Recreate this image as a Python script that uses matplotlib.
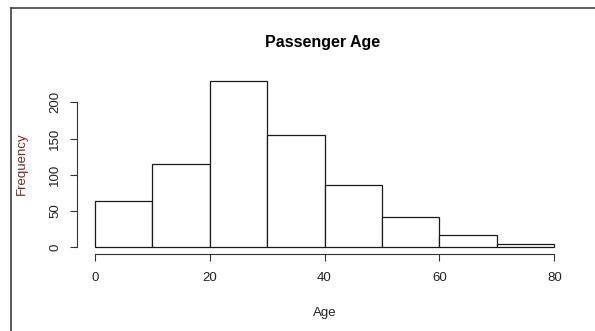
import matplotlib
matplotlib.use('Agg')
import matplotlib.pyplot as plt
from matplotlib.lines import Line2D

plt.rcParams['font.family'] = ['Liberation Sans', 'DejaVu Sans']

# histogram of passenger ages (bin edges and counts)
bin_edges = [0, 10, 20, 30, 40, 50, 60, 70, 80]
counts = [64, 115, 230, 155, 86, 42, 17, 5]
x_ticks = [0, 20, 40, 60, 80]
y_ticks = [0, 50, 100, 150, 200]

fig = plt.figure(figsize=(5.95, 3.31), dpi=100)
ax = fig.add_axes([0.1592, 0.2529, 0.7724, 0.508])

bars = ax.bar(bin_edges[:-1], counts, width=10, align='edge',
              color='white', edgecolor='#1a1a1a', linewidth=0.9)
for b in bars:
    b.set_clip_on(False)

ax.set_xlim(0, 80)
ax.set_ylim(0, 232)

for s in ['top', 'right']:
    ax.spines[s].set_visible(False)
ax.spines['left'].set_position(('outward', 13))
ax.spines['bottom'].set_position(('outward', 5))
ax.spines['left'].set_bounds(0, 200)
ax.spines['bottom'].set_bounds(0, 80)
for s in ['left', 'bottom']:
    ax.spines[s].set_color('#333333')
    ax.spines[s].set_linewidth(0.8)

ax.set_xticks(x_ticks)
ax.set_yticks(y_ticks)
ax.tick_params(axis='both', length=5, width=0.8, color='#333333',
               labelsize=9.5, labelcolor='#222222')
ax.tick_params(axis='x', pad=8)
ax.tick_params(axis='y', pad=6, labelrotation=90)
for lbl in ax.get_yticklabels():
    lbl.set_va('center')

ax.set_xlabel('Age', fontsize=9.5, color='#222222')
ax.xaxis.set_label_coords(0.5, -0.355)
ax.set_ylabel('Frequency', fontsize=9.5, color='#7a2a1a')
ax.yaxis.set_label_coords(-0.158, 0.5)
ax.yaxis.label.set_va('center')

fig.text(323 / 595, 1 - 42 / 331, 'Passenger Age', ha='center', va='center',
         fontsize=11.5, fontweight='bold')

# screenshot frame: top and left border
fig.add_artist(Line2D([0.0178, 1.0], [0.975, 0.975], transform=fig.transFigure,
                      color='#404040', linewidth=1.2))
fig.add_artist(Line2D([0.0178, 0.0178], [0.0, 0.975], transform=fig.transFigure,
                      color='#404040', linewidth=1.2))

fig.savefig('out.png', dpi=100)
